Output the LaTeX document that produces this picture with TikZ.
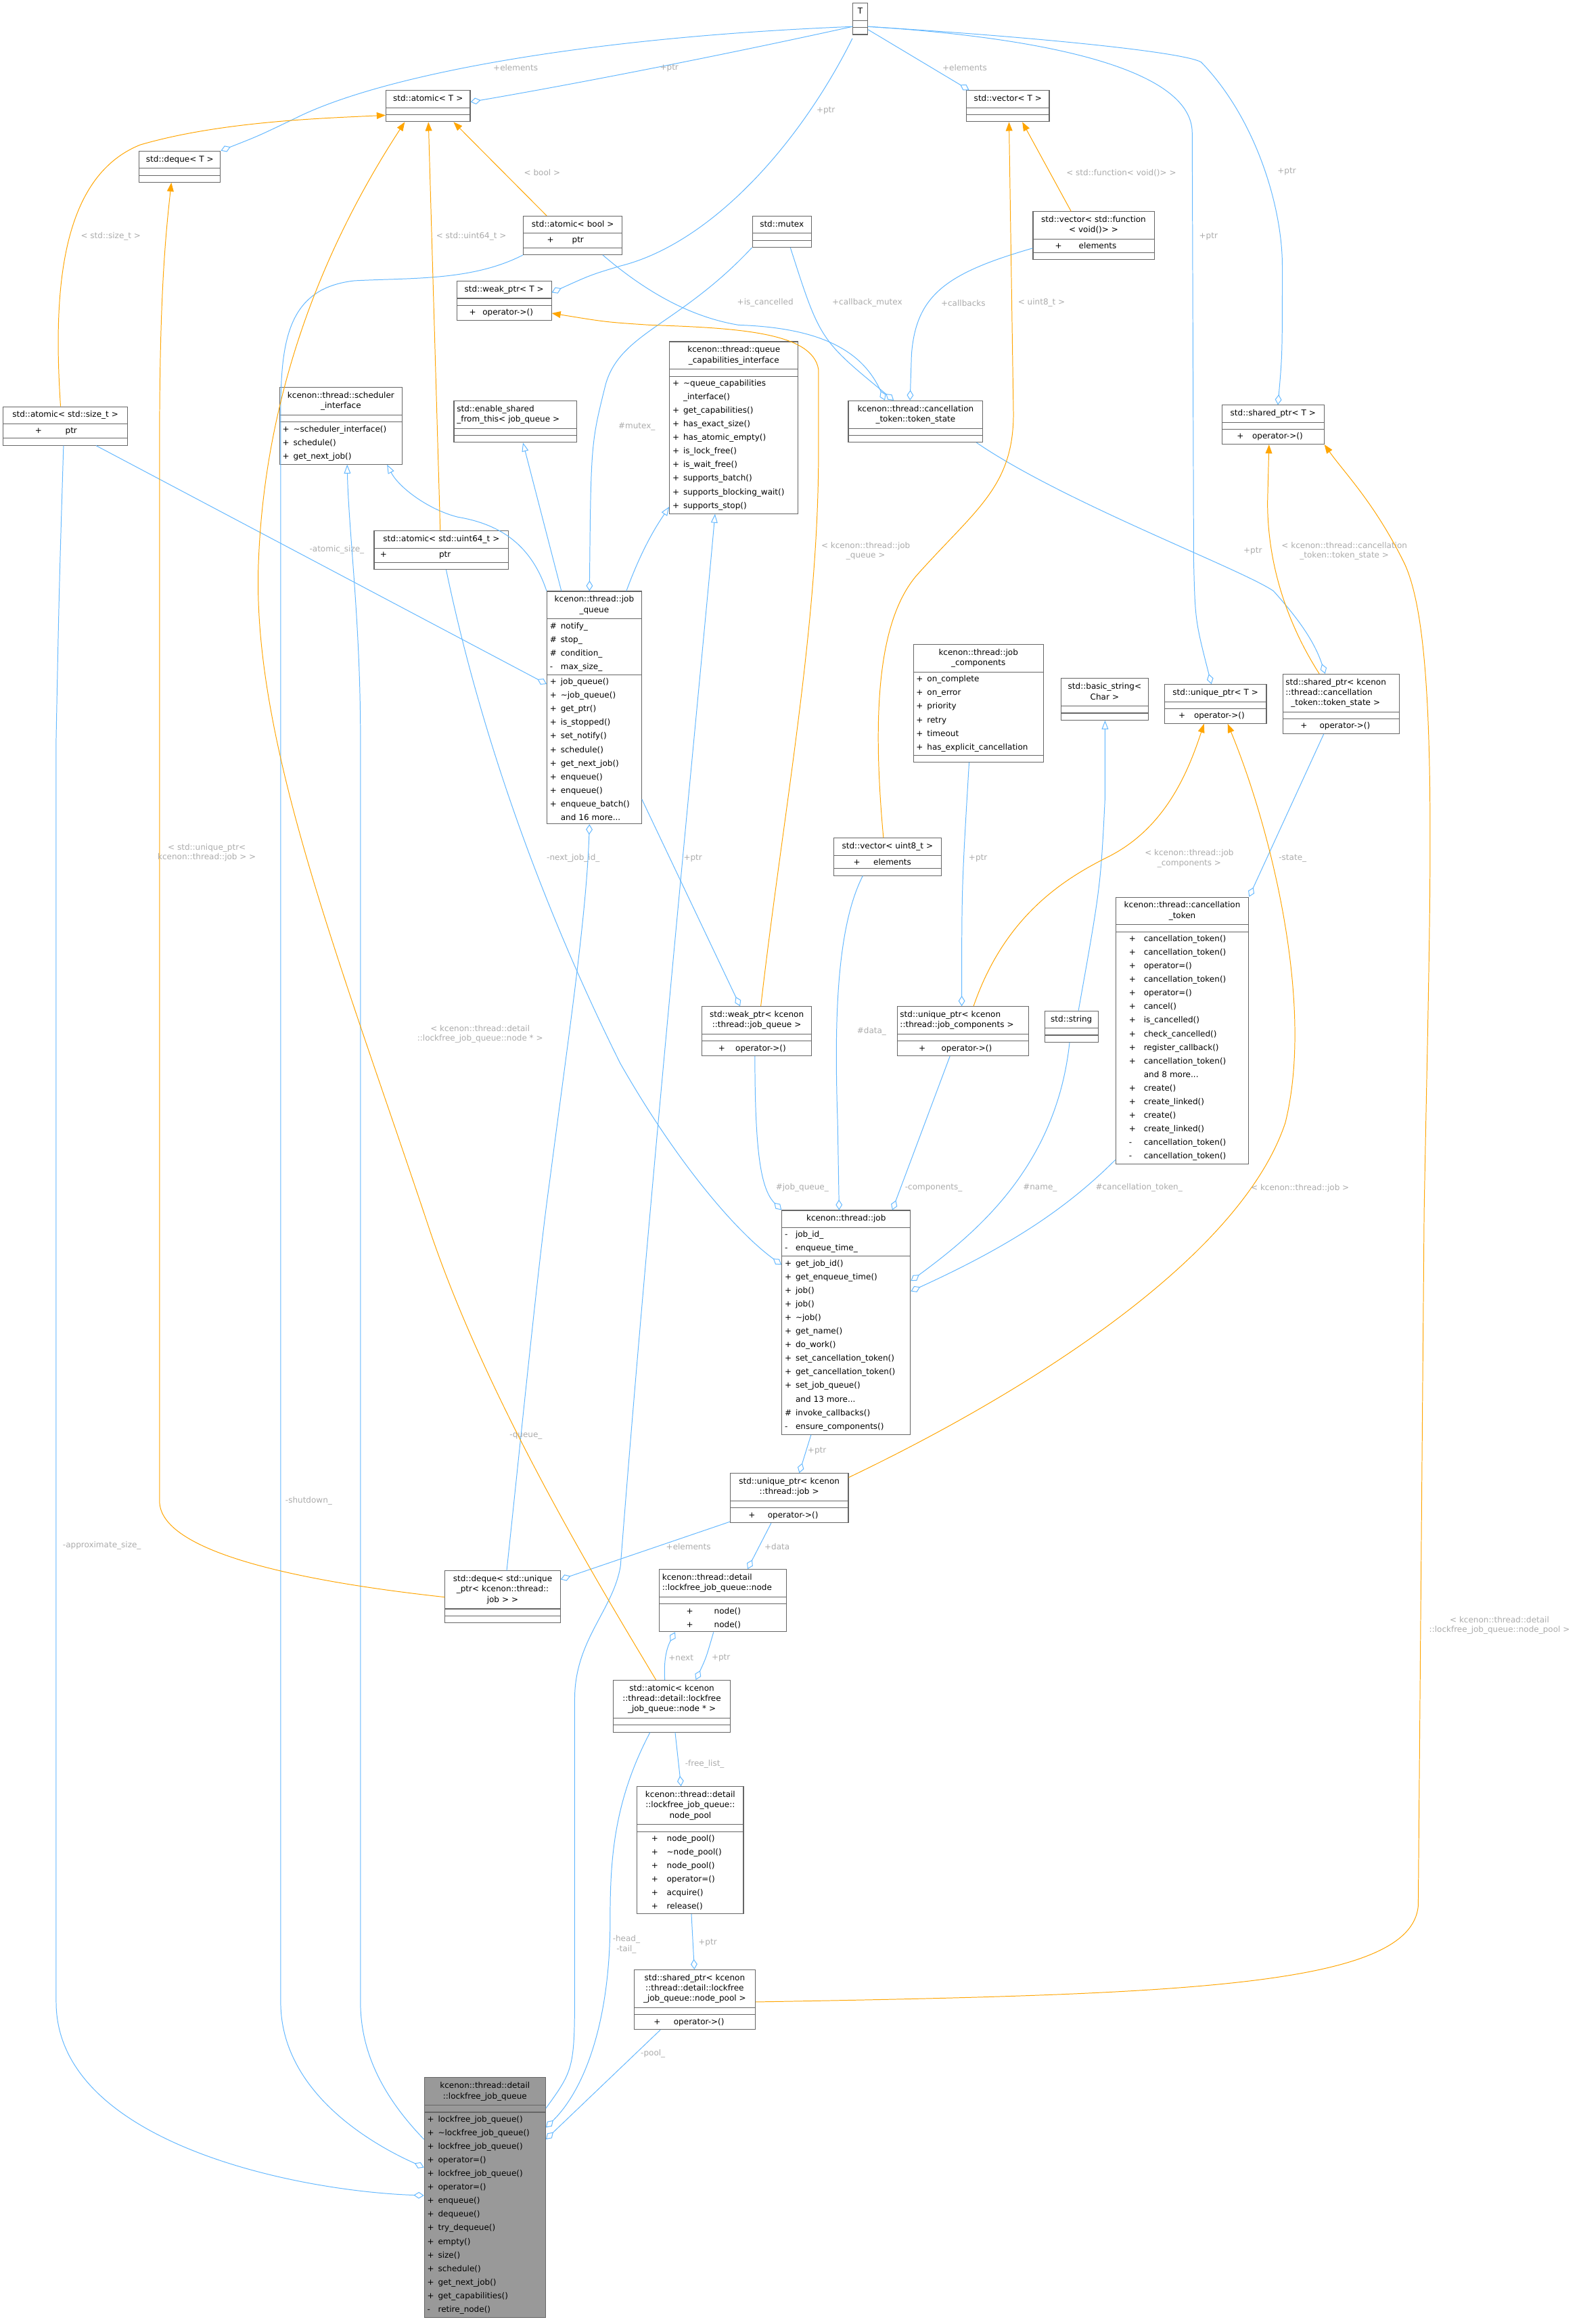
\documentclass[tikz,border=0pt]{standalone}
\usepackage{fontspec}
\newfontfamily\dv{DejaVu Sans}
\usetikzlibrary{shapes.multipart,arrows.meta}
\definecolor{cblue}{HTML}{63B8FF}
\definecolor{corange}{HTML}{FFA500}
\definecolor{cgray}{HTML}{ABABAB}
\definecolor{cbord}{HTML}{666666}
\newcommand\mm[3][7.3pt]{\mbox{\makebox[#1][l]{#2}#3}}
\newcommand\ttc[1]{{\fontsize{5.5}{7}\selectfont\makebox[\hsize][c]{\begin{tabular}[t]{@{}c@{}}#1\end{tabular}}}}
\newcommand\ttlf[1]{{\fontsize{5.5}{7}\selectfont\makebox[\hsize][l]{\begin{tabular}[t]{@{}l@{}}#1\end{tabular}}}}
\tikzset{
 cls/.style={rectangle split,rectangle split parts=3,draw=cbord,line width=0.5pt,fill=white,anchor=north west,
   font=\dv\fontsize{5.5}{9.2}\selectfont,inner xsep=2pt,inner ysep=2.1pt,rectangle split empty part height=5.8pt},
 use/.style={draw=cblue,line width=0.45pt,-{Diamond[open,length=7pt,width=4.5pt]}},
 inh/.style={draw=cblue,line width=0.45pt,-{Triangle[open,length=6pt,width=4.5pt]}},
 tmpl/.style={draw=corange,line width=0.45pt,-{Triangle[length=6pt,width=4.5pt,color=corange]}},
 lbl/.style={font=\dv\fontsize{5.5}{6.5}\selectfont,text=cgray,inner sep=0pt,align=center}
}
\begin{document}
\begin{tikzpicture}[x=1pt,y=-1pt]
\useasboundingbox[fill=white] (0,0) rectangle (1070,1573);
% ---------- nodes
\node[cls,text width=6pt] (T) at (577,2) {\ttc{T}\nodepart{two}\nodepart{three}};
\node[cls,text width=53pt] (atomicT) at (261,61) {\ttc{std::atomic< T >}\nodepart{two}\nodepart{three}};
\node[cls,text width=51pt] (dequeT) at (94,102) {\ttc{std::deque< T >}\nodepart{two}\nodepart{three}};
\node[cls,text width=52pt] (vectorT) at (654,61) {\ttc{std::vector< T >}\nodepart{two}\nodepart{three}};
\node[cls,text width=63pt] (atomic_bool) at (354,146) {\ttc{std::atomic< bool >}\nodepart{two}\hspace*{14pt}\mm[17pt]{+}{ptr}\nodepart{three}};
\node[cls,text width=36pt] (mutex) at (509,146) {\ttc{std::mutex}\nodepart{two}\nodepart{three}};
\node[cls,text width=60pt] (weak_ptrT) at (309,190) {\ttc{std::weak\_ptr< T >}\nodepart{two}\nodepart{three}\hspace*{6.4pt}\mm[9pt]{+}{operator->()}};
\node[cls,text width=78pt] (vector_function) at (699,143) {\ttc{std::vector< std::function\\< void()> >}\nodepart{two}\hspace*{13pt}\mm[16pt]{+}{elements}\nodepart{three}};
\node[cls,text width=83pt] (queue_caps) at (453,231) {\ttc{kcenon::thread::queue\\\_capabilities\_interface}\nodepart{two}\nodepart{three}%
\mm{+}{\textasciitilde queue\_capabilities}\\\mm{}{\_interface()}\\\mm{+}{get\_capabilities()}\\\mm{+}{has\_exact\_size()}\\\mm{+}{has\_atomic\_empty()}\\\mm{+}{is\_lock\_free()}\\\mm{+}{is\_wait\_free()}\\\mm{+}{supports\_batch()}\\\mm{+}{supports\_blocking\_wait()}\\\mm{+}{supports\_stop()}};
\node[cls,text width=87pt] (token_state) at (574,271) {\ttc{kcenon::thread::cancellation\\\_token::token\_state}\nodepart{two}\nodepart{three}};
\node[cls,text width=65pt] (shared_ptrT) at (827,274) {\ttc{std::shared\_ptr< T >}\nodepart{two}\nodepart{three}\hspace*{8pt}\mm[10.4pt]{+}{operator->()}};
\node[cls,text width=80pt] (atomic_size_t) at (2,275) {\ttc{std::atomic< std::size\_t >}\nodepart{two}\hspace*{19.5pt}\mm[20.5pt]{+}{ptr}\nodepart{three}};
\node[cls,text width=79pt] (scheduler) at (189,262) {\ttc{kcenon::thread::scheduler\\\_interface}\nodepart{two}\nodepart{three}%
\mm{+}{\textasciitilde scheduler\_interface()}\\\mm{+}{schedule()}\\\mm{+}{get\_next\_job()}};
\node[cls,text width=79pt] (enable_shared) at (307,271) {\ttlf{std::enable\_shared\\\_from\_this< job\_queue >}\nodepart{two}\nodepart{three}};
\node[cls,text width=87pt] (atomic_uint64) at (253,359) {\ttc{std::atomic< std::uint64\_t >}\nodepart{two}\hspace*{2pt}\mm[40pt]{+}{ptr}\nodepart{three}};
\node[cls,text width=60pt] (job_queue) at (370,400) {\ttc{kcenon::thread::job\\\_queue}\nodepart{two}%
\mm{\#}{notify\_}\\\mm{\#}{stop\_}\\\mm{\#}{condition\_}\\\mm{-}{max\_size\_}\nodepart{three}%
\mm{+}{job\_queue()}\\\mm{+}{\textasciitilde job\_queue()}\\\mm{+}{get\_ptr()}\\\mm{+}{is\_stopped()}\\\mm{+}{set\_notify()}\\\mm{+}{schedule()}\\\mm{+}{get\_next\_job()}\\\mm{+}{enqueue()}\\\mm{+}{enqueue()}\\\mm{+}{enqueue\_batch()}\\\mm{}{and 16 more...}};
\node[cls,text width=84pt] (job_components) at (618,436) {\ttc{kcenon::thread::job\\\_components}\nodepart{two}%
\mm{+}{on\_complete}\\\mm{+}{on\_error}\\\mm{+}{priority}\\\mm{+}{retry}\\\mm{+}{timeout}\\\mm{+}{has\_explicit\_cancellation}\nodepart{three}};
\node[cls,text width=55pt] (basic_string) at (718,459) {\ttc{std::basic\_string<\\Char >}\nodepart{two}\nodepart{three}};
\node[cls,text width=65pt] (unique_ptrT) at (788,463) {\ttc{std::unique\_ptr< T >}\nodepart{two}\nodepart{three}\hspace*{7.5pt}\mm[10.5pt]{+}{operator->()}};
\node[cls,text width=75pt] (shared_ptr_token) at (868,456) {\ttlf{std::shared\_ptr< kcenon\\::thread::cancellation\\\ \ \_token::token\_state >}\nodepart{two}\nodepart{three}\hspace*{10pt}\mm[13pt]{+}{operator->()}};
\node[cls,text width=69pt] (vector_uint8) at (564,567) {\ttc{std::vector< uint8\_t >}\nodepart{two}\hspace*{11.5pt}\mm[13.5pt]{+}{elements}\nodepart{three}};
\node[cls,text width=86pt] (cancellation_token) at (755,607) {\ttc{kcenon::thread::cancellation\\\_token}\nodepart{two}\nodepart{three}%
\hspace*{7pt}\mm[10pt]{+}{cancellation\_token()}\\\hspace*{7pt}\mm[10pt]{+}{cancellation\_token()}\\\hspace*{7pt}\mm[10pt]{+}{operator=()}\\\hspace*{7pt}\mm[10pt]{+}{cancellation\_token()}\\\hspace*{7pt}\mm[10pt]{+}{operator=()}\\\hspace*{7pt}\mm[10pt]{+}{cancel()}\\\hspace*{7pt}\mm[10pt]{+}{is\_cancelled()}\\\hspace*{7pt}\mm[10pt]{+}{check\_cancelled()}\\\hspace*{7pt}\mm[10pt]{+}{register\_callback()}\\\hspace*{7pt}\mm[10pt]{+}{cancellation\_token()}\\\hspace*{7pt}\mm[10pt]{}{and 8 more...}\\\hspace*{7pt}\mm[10pt]{+}{create()}\\\hspace*{7pt}\mm[10pt]{+}{create\_linked()}\\\hspace*{7pt}\mm[10pt]{+}{create()}\\\hspace*{7pt}\mm[10pt]{+}{create\_linked()}\\\hspace*{7pt}\mm[10pt]{-}{cancellation\_token()}\\\hspace*{7pt}\mm[10pt]{-}{cancellation\_token()}};
\node[cls,text width=70pt] (weak_ptr_jq) at (475,681) {\ttc{std::weak\_ptr< kcenon\\::thread::job\_queue >}\nodepart{two}\nodepart{three}\hspace*{9pt}\mm[11.6pt]{+}{operator->()}};
\node[cls,text width=85pt] (unique_ptr_jc) at (607,681) {\ttlf{std::unique\_ptr< kcenon\\::thread::job\_components >}\nodepart{two}\nodepart{three}\hspace*{12.7pt}\mm[15.3pt]{+}{operator->()}};
\node[cls,text width=32pt] (std_string) at (707,684) {\ttc{std::string}\nodepart{two}\nodepart{three}};
\node[cls,text width=83pt] (job) at (529,819) {\ttc{kcenon::thread::job}\nodepart{two}%
\mm{-}{job\_id\_}\\\mm{-}{enqueue\_time\_}\nodepart{three}%
\mm{+}{get\_job\_id()}\\\mm{+}{get\_enqueue\_time()}\\\mm{+}{job()}\\\mm{+}{job()}\\\mm{+}{\textasciitilde job()}\\\mm{+}{get\_name()}\\\mm{+}{do\_work()}\\\mm{+}{set\_cancellation\_token()}\\\mm{+}{get\_cancellation\_token()}\\\mm{+}{set\_job\_queue()}\\\mm{}{and 13 more...}\\\mm{\#}{invoke\_callbacks()}\\\mm{-}{ensure\_components()}};
\node[cls,text width=76pt] (unique_ptr_job) at (494,997) {\ttc{std::unique\_ptr< kcenon\\::thread::job >}\nodepart{two}\nodepart{three}\hspace*{10.4pt}\mm[13pt]{+}{operator->()}};
\node[cls,text width=74pt] (deque_unique) at (301,1063) {\ttc{std::deque< std::unique\\\_ptr< kcenon::thread::\\job > >}\nodepart{two}\nodepart{three}};
\node[cls,text width=82pt] (node) at (446,1062) {\ttlf{kcenon::thread::detail\\::lockfree\_job\_queue::node}\nodepart{two}\nodepart{three}%
\hspace*{16.4pt}\mm[18.8pt]{+}{node()}\\\hspace*{16.4pt}\mm[18.8pt]{+}{node()}};
\node[cls,text width=75pt] (atomic_node) at (415,1137) {\ttc{std::atomic< kcenon\\::thread::detail::lockfree\\\_job\_queue::node * >}\nodepart{two}\nodepart{three}};
\node[cls,text width=68pt] (node_pool) at (431,1209) {\ttc{kcenon::thread::detail\\::lockfree\_job\_queue::\\node\_pool}\nodepart{two}\nodepart{three}%
\hspace*{7.7pt}\mm[10.4pt]{+}{node\_pool()}\\\hspace*{7.7pt}\mm[10.4pt]{+}{\textasciitilde node\_pool()}\\\hspace*{7.7pt}\mm[10.4pt]{+}{node\_pool()}\\\hspace*{7.7pt}\mm[10.4pt]{+}{operator=()}\\\hspace*{7.7pt}\mm[10.4pt]{+}{acquire()}\\\hspace*{7.7pt}\mm[10.4pt]{+}{release()}};
\node[cls,text width=78pt] (shared_ptr_pool) at (429,1333) {\ttc{std::shared\_ptr< kcenon\\::thread::detail::lockfree\\\_job\_queue::node\_pool >}\nodepart{two}\nodepart{three}\hspace*{11.3pt}\mm[13.5pt]{+}{operator->()}};
\node[cls,text width=78pt,fill=black!40] (lockfree) at (287,1406) {\ttc{kcenon::thread::detail\\::lockfree\_job\_queue}\nodepart{two}\nodepart{three}%
\mm{+}{lockfree\_job\_queue()}\\\mm{+}{\textasciitilde lockfree\_job\_queue()}\\\mm{+}{lockfree\_job\_queue()}\\\mm{+}{operator=()}\\\mm{+}{lockfree\_job\_queue()}\\\mm{+}{operator=()}\\\mm{+}{enqueue()}\\\mm{+}{dequeue()}\\\mm{+}{try\_dequeue()}\\\mm{+}{empty()}\\\mm{+}{size()}\\\mm{+}{schedule()}\\\mm{+}{get\_next\_job()}\\\mm{+}{get\_capabilities()}\\\mm{-}{retire\_node()}};
% ---------- usage edges
\draw[use] (T.west |- 0,18) .. controls (500,35) and (400,55) .. (atomicT.east |- 0,69);
\node[lbl] (l1) at (453,46) {+ptr};
\draw[use] (T.west |- 0,18) .. controls (400,25) and (260,50) .. (200,80) .. controls (175,92) .. (dequeT.north east);
\node[lbl] (l2) at (349,46) {+elements};
\draw[use] (T.west |- 0,26) .. controls (540,100) and (480,165) .. (420,180) .. controls (400,186) .. (weak_ptrT.east |- 0,198);
\node[lbl] (l3) at (559,75) {+ptr};
\draw[use] (T.east |- 0,20) -- (vectorT.north -| 656,0);
\node[lbl] (l4) at (653,46) {+elements};
\draw[use] (T.east |- 0,18) .. controls (700,25) and (807,45) .. (807,90) -- (808,380) .. controls (809,420) .. (unique_ptrT.north -| 820,0);
\node[lbl] (l5) at (818,160) {+ptr};
\draw[use] (T.east |- 0,18) .. controls (700,25) and (800,35) .. (813,42) .. controls (850,80) and (868,140) .. (868,180) .. controls (868,240) .. (shared_ptrT.north -| 865,0);
\node[lbl] (l6) at (871,116) {+ptr};
\draw[use] (atomic_bool.south -| 408,0) .. controls (440,200) and (470,215) .. (500,220) .. controls (560,222) and (585,240) .. (token_state.north -| 599,0);
\node[lbl] (l7) at (518,205) {+is\_cancelled};
\draw[use] (mutex.south -| 535,0) .. controls (555,230) .. (token_state.north -| 605,0);
\node[lbl] (l8) at (587,205) {+callback\_mutex};
\draw[use] (mutex.south west) .. controls (460,220) and (420,225) .. (410,260) .. controls (400,300) .. (job_queue.north -| 399,0);
\node[lbl] (l9) at (431,289) {\#mutex\_};
\draw[use] (vector_function.west |- 0,168) .. controls (640,185) and (620,200) .. (617,240) -- (token_state.north -| 616,0);
\node[lbl] (l10) at (652,205) {+callbacks};
\draw[use] (atomic_bool.south west) .. controls (320,190) and (280,188) .. (240,190) .. controls (195,195) and (190,230) .. (190,280) -- (190,1355) .. controls (190,1420) and (260,1455) .. (lockfree.west |- 0,1467);
\node[lbl] (l11) at (209,1016) {-shutdown\_};
\draw[use] (atomic_size_t.south -| 65,0) -- (job_queue.west |- 0,463);
\node[lbl] (l12) at (228,372) {-atomic\_size\_};
\draw[use] (atomic_size_t.south -| 43,0) .. controls (40,400) .. (38,500) -- (38,1355) .. controls (38,1450) and (200,1483) .. (lockfree.west |- 0,1486);
\node[lbl] (l13) at (69,1046) {-approximate\_size\_};
\draw[use] (atomic_uint64.south -| 302,0) .. controls (330,520) and (380,640) .. (420,720) .. controls (460,790) and (500,835) .. (job.west |- 0,856);
\node[lbl] (l14) at (388,581) {-next\_job\_id\_};
\draw[use] (job_queue.east |- 0,541) -- (weak_ptr_jq.north -| 501,0);
\node[lbl] (l15) at (469,581) {+ptr};
\draw[use] (deque_unique.north -| 343,0) .. controls (355,950) and (365,850) .. (372,800) .. controls (385,700) and (397,620) .. (job_queue.south -| 399,0);
\node[lbl] (l16) at (356,972) {-queue\_};
\draw[use] (weak_ptr_jq.south -| 511,0) .. controls (511,780) and (515,805) .. (job.north west);
\node[lbl] (l17) at (543,804) {\#job\_queue\_};
\draw[use] (vector_uint8.south -| 584,0) .. controls (565,630) and (565,700) .. (567,760) -- (job.north -| 568,0);
\node[lbl] (l18) at (590,698) {\#data\_};
\draw[use] (unique_ptr_jc.south -| 643,0) -- (job.north -| 604,0);
\node[lbl] (l19) at (632,804) {-components\_};
\draw[use] (job_components.south -| 656,0) .. controls (651,600) .. (unique_ptr_jc.north -| 651,0);
\node[lbl] (l20) at (662,581) {+ptr};
\draw[use] (std_string.south -| 724,0) .. controls (715,790) and (660,835) .. (job.east |- 0,867);
\node[lbl] (l21) at (704,804) {\#name\_};
\draw[use] (cancellation_token.west |- 0,785) .. controls (720,820) and (680,845) .. (job.east |- 0,874);
\node[lbl] (l22) at (771,804) {\#cancellation\_token\_};
\draw[use] (token_state.south -| 661,0) .. controls (720,340) and (840,385) .. (862,400) .. controls (880,420) and (890,435) .. (shared_ptr_token.north -| 897,0);
\node[lbl] (l23) at (848,373) {+ptr};
\draw[use] (shared_ptr_token.south -| 896,0) -- (cancellation_token.north east);
\node[lbl] (l24) at (875,581) {-state\_};
\draw[use] (job.south -| 549,0) -- (unique_ptr_job.north -| 541,0);
\node[lbl] (l25) at (553,982) {+ptr};
\draw[use] (unique_ptr_job.west |- 0,1030) -- (deque_unique.east |- 0,1069);
\node[lbl] (l26) at (466,1047) {+elements};
\draw[use] (unique_ptr_job.south -| 522,0) -- (node.north -| 506,0);
\node[lbl] (l27) at (526,1047) {+data};
\draw[use] (node.south -| 483,0) .. controls (478,1122) .. (atomic_node.north -| 471,0);
\node[lbl] (l28) at (488,1122) {+ptr};
\draw[use] (atomic_node.north -| 450,0) .. controls (449,1122) and (452,1114) .. (node.south -| 457,0);
\node[lbl] (l29) at (461,1122) {+next};
\draw[use] (atomic_node.south -| 457,0) -- (node_pool.north -| 461,0);
\node[lbl] (l30) at (477,1194) {-free\_list\_};
\draw[use] (node_pool.south -| 468,0) -- (shared_ptr_pool.north -| 470,0);
\node[lbl] (l31) at (479,1315) {+ptr};
\draw[use] (atomic_node.south -| 440,0) .. controls (415,1220) and (413,1260) .. (413,1300) .. controls (413,1370) and (395,1415) .. (lockfree.east |- 0,1440);
\node[lbl] (l32) at (424,1316) {-head\_\\-tail\_};
\draw[use] (shared_ptr_pool.south -| 447,0) -- (lockfree.east |- 0,1448);
\node[lbl] (l33) at (442,1390) {-pool\_};
% ---------- inheritance
\draw[inh] (lockfree.west |- 0,1448) .. controls (260,1420) and (244,1390) .. (244,1355) -- (244,500) .. controls (244,420) and (236,360) .. (scheduler.south -| 235,0);
\draw[inh] (job_queue.north west) .. controls (360,370) and (340,355) .. (310,350) .. controls (290,345) and (270,330) .. (scheduler.south -| 262,0);
\draw[inh] (job_queue.north -| 380,0) -- (enable_shared.south -| 354,0);
\draw[inh] (job_queue.north -| 424,0) .. controls (435,370) and (445,355) .. (queue_caps.west |- 0,343);
\draw[inh] (lockfree.east |- 0,1427) .. controls (389,1400) .. (389,1340) -- (389,1150) .. controls (389,1110) and (415,1090) .. (420,1060) .. controls (440,800) and (475,450) .. (queue_caps.south -| 484,0);
\draw[inh] (std_string.north -| 730,0) .. controls (745,600) .. (748,540) -- (basic_string.south -| 748,0);
% ---------- template instances
\draw[tmpl] (atomic_size_t.north -| 41,0) .. controls (36,200) and (40,120) .. (95,98) .. controls (150,82) and (220,80) .. (atomicT.west |- 0,78);
\node[lbl] (t1) at (75,160) {< std::size\_t >};
\draw[tmpl] (atomic_uint64.north -| 298,0) -- (atomicT.south -| 290,0);
\node[lbl] (t2) at (319,160) {< std::uint64\_t >};
\draw[tmpl] (atomic_bool.north -| 370,0) -- (atomicT.south -| 307,0);
\node[lbl] (t3) at (367,117) {< bool >};
\draw[tmpl] (atomic_node.north -| 444,0) .. controls (410,1080) and (330,950) .. (290,830) .. controls (230,650) and (170,500) .. (175,380) .. controls (180,250) and (230,150) .. (atomicT.south -| 274,0);
\node[lbl] (t4) at (325,700) {< kcenon::thread::detail\\::lockfree\_job\_queue::node * >};
\draw[tmpl] (deque_unique.west |- 0,1081) .. controls (200,1070) and (108,1050) .. (108,1016) -- (108,300) .. controls (108,200) and (112,160) .. (dequeT.south -| 116,0);
\node[lbl] (t5) at (140,577) {< std::unique\_ptr<\\kcenon::thread::job > >};
\draw[tmpl] (vector_function.north -| 725,0) -- (vectorT.south -| 692,0);
\node[lbl] (t6) at (759,117) {< std::function< void()> >};
\draw[tmpl] (vector_uint8.north -| 598,0) .. controls (590,480) and (595,420) .. (620,390) .. controls (660,345) and (686,330) .. (686,280) -- (vectorT.south -| 683,0);
\node[lbl] (t7) at (705,205) {< uint8\_t >};
\draw[tmpl] (weak_ptr_jq.north -| 515,0) .. controls (530,550) and (555,420) .. (554,300) -- (554,250) .. controls (550,225) and (500,222) .. (440,220) .. controls (410,218) .. (weak_ptrT.east |- 0,212);
\node[lbl] (t8) at (586,373) {< kcenon::thread::job\\\_queue >};
\draw[tmpl] (unique_ptr_jc.north -| 659,0) .. controls (680,620) and (720,595) .. (750,580) .. controls (790,560) and (805,520) .. (unique_ptrT.south -| 815,0);
\node[lbl] (t9) at (805,581) {< kcenon::thread::job\\\_components >};
\draw[tmpl] (unique_ptr_job.east |- 0,1000) .. controls (700,940) and (840,850) .. (870,760) .. controls (890,680) and (860,560) .. (unique_ptrT.south -| 831,0);
\node[lbl] (t10) at (880,804) {< kcenon::thread::job >};
\draw[tmpl] (shared_ptr_token.north -| 893,0) .. controls (870,420) and (858,380) .. (858,340) -- (shared_ptrT.south -| 859,0);
\node[lbl] (t11) at (910,373) {< kcenon::thread::cancellation\\\_token::token\_state >};
\draw[tmpl] (shared_ptr_pool.east |- 0,1355) .. controls (800,1350) and (955,1345) .. (960,1290) -- (964,820) .. controls (968,600) and (975,430) .. (950,380) .. controls (930,340) and (910,320) .. (shared_ptrT.south east);
\node[lbl] (t12) at (1015,1100) {< kcenon::thread::detail\\::lockfree\_job\_queue::node\_pool >};
\end{tikzpicture}
\end{document}
